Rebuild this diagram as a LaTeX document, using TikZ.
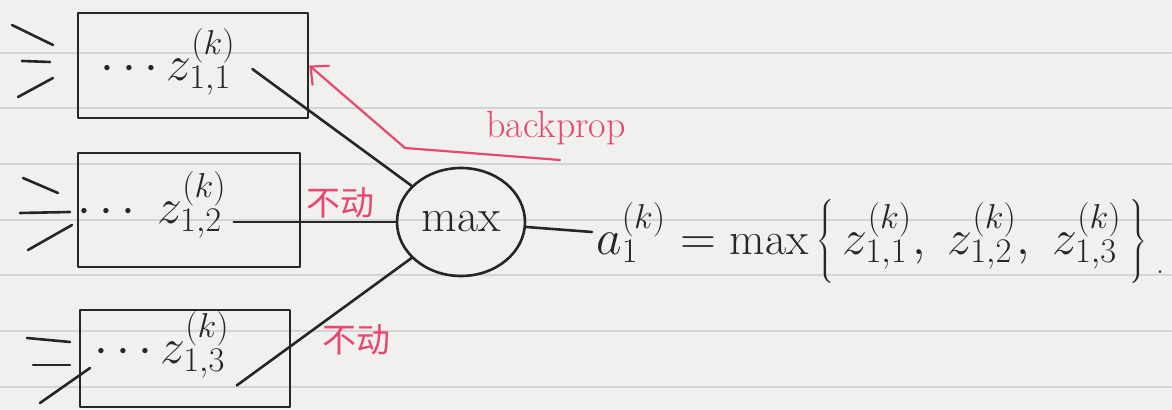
\documentclass[tikz,border=0pt]{standalone}
\usepackage{fontspec}
\newfontfamily\cjk{Noto Sans CJK SC}
\usetikzlibrary{shapes.geometric,arrows.meta}
\definecolor{paper}{RGB}{240,240,238}
\definecolor{ruling}{RGB}{212,212,212}
\definecolor{ink}{RGB}{38,38,38}
\definecolor{pen}{RGB}{232,72,112}
\begin{document}
\begin{tikzpicture}[x=0.5pt,y=-0.5pt,
  inkline/.style={draw=ink,line width=1.3pt,line cap=round,line join=round},
  boxnode/.style={inkline,rectangle,inner sep=0pt},
  zlab/.style={text=ink,font=\fontsize{25}{30}\selectfont},
  redline/.style={draw=pen,line width=1.1pt,line cap=round,line join=round},
  redlab/.style={text=pen,font=\fontsize{19}{23}\selectfont},
  cjklab/.style={text=pen,font=\cjk\fontsize{17}{20}\selectfont}
]
\fill[paper] (0,0) rectangle (1172,410);
\useasboundingbox (0,0) rectangle (1172,410);
\foreach \y in {53,108,164,220,275,331,387}
  \draw[ruling,line width=0.7pt] (0,\y) -- (1172,\y);

% boxes
\node[boxnode,minimum width=115pt,minimum height=52.5pt] (b1) at (193,65.5) {};
\node[boxnode,minimum width=111pt,minimum height=57pt] (b2) at (189,210) {};
\node[boxnode,minimum width=105pt,minimum height=48.5pt] (b3) at (185,358.5) {};

% box texts
\node[zlab] (z1) at (168,62) {$\cdots z^{(k)}_{1,1}$};
\node[zlab] (z2) at (152,205) {$\cdots\; z^{(k)}_{1,2}$};
\node[zlab] (z3) at (162,345) {$\cdots z^{(k)}_{1,3}$};

% max node
\node[inkline,ellipse,minimum width=64pt,minimum height=54pt,inner sep=0pt,
      text=ink,font=\fontsize{23}{27}\selectfont] (mx) at (461,222) {$\max$};

% formula
\node[zlab,anchor=west,inner sep=2pt] (a) at (592,242)
  {\fontsize{23}{27}\selectfont$a^{(k)}_1 = \max\left\{\, z^{(k)}_{1,1},\; z^{(k)}_{1,2},\; z^{(k)}_{1,3}\rule[-15pt]{0pt}{38pt}\, \right\}$};
\node[text=ink,font=\fontsize{16}{19}\selectfont] (dot) at (1160,272) {.};

% connectors into max
\draw[inkline,shorten <=6pt] (z1.east) -- (mx);
\draw[inkline] (z2.east |- mx.west) -- (mx.west);
\draw[inkline] (z3.south east) -- (mx);
\draw[inkline] (mx) -- (a.west |- 0,232);

% input strokes
\foreach \n/\xa/\ya/\xb/\yb in {
  i1/12/25/53/45, i2/22/61/50/62, i3/18/97/53/78,
  i4/23/178/58/193, i5/20/213/70/212, i6/28/250/72/225,
  i7/27/338/70/342, i8/33/365/70/365, i9/40/403/90/368} {
  \coordinate (\n s) at (\xa,\ya);
  \coordinate (\n e) at (\xb,\yb);
  \draw[inkline] (\n s) -- (\n e);
}

% backprop
\coordinate (bp0) at (560,160);
\coordinate (bp1) at (405,148);
\draw[redline,-{Straight Barb[length=7pt,width=13pt]}] (bp0) -- (bp1) -- (b1.east);
\node[redlab] (lbp) at (556,128) {backprop};
\node[cjklab] (nd1) at (340,203) {不动};
\node[cjklab] (nd2) at (356,340) {不动};
\end{tikzpicture}
\end{document}
